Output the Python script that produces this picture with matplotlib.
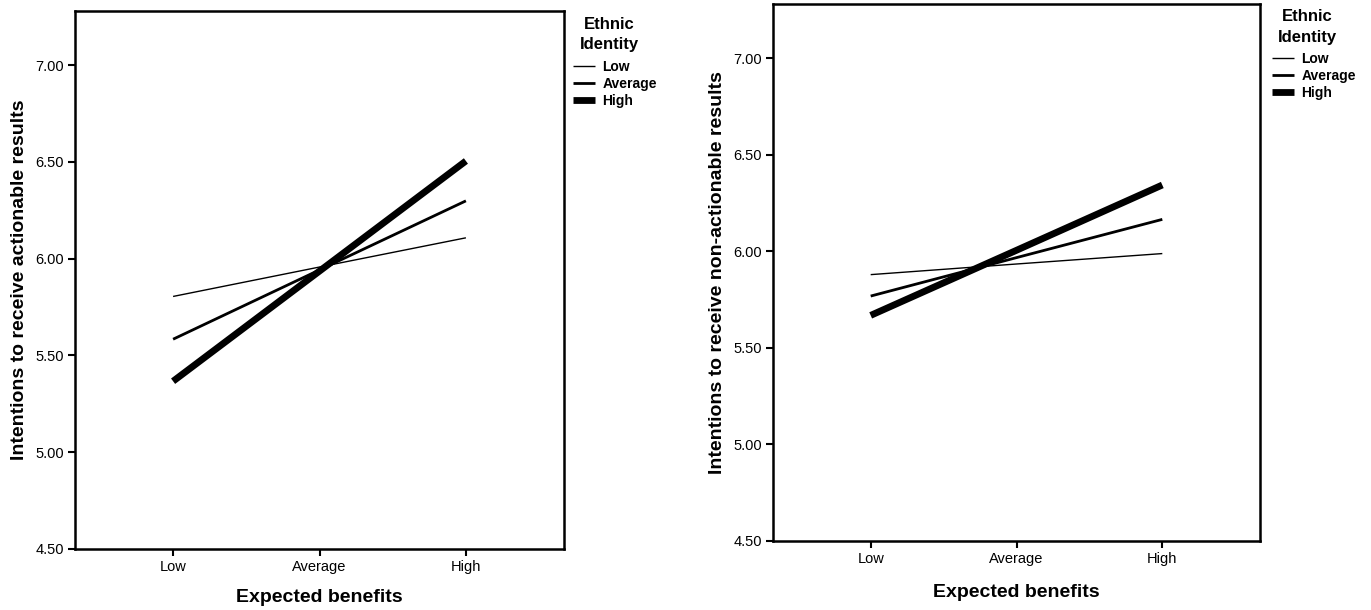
import numpy as np
import matplotlib.pyplot as plt
from matplotlib.ticker import FormatStrFormatter

plt.rcParams['font.family'] = ['Liberation Sans', 'DejaVu Sans']

# x categories (expected benefits)
benefit_levels = ['Low', 'Average', 'High']
identity_levels = ['Low', 'Average', 'High']

# left panel: intentions to receive actionable results
actionable_low = [5.805, 5.957, 6.108]
actionable_avg = [5.584, 5.942, 6.299]
actionable_high = [5.367, 5.936, 6.505]

# right panel: intentions to receive non-actionable results
nonactionable_low = [5.879, 5.934, 5.988]
nonactionable_avg = [5.768, 5.967, 6.165]
nonactionable_high = [5.668, 6.005, 6.343]

ylabels = ['Intentions to receive actionable results',
           'Intentions to receive non-actionable results']
widths = [1.0, 2.0, 4.9]

fig = plt.figure(figsize=(13.71, 6.10), dpi=100)
ax1 = fig.add_axes([75 / 1371, 1 - 549 / 610, 489 / 1371, 538 / 610])
ax2 = fig.add_axes([773 / 1371, 1 - 541 / 610, 487 / 1371, 537 / 610])

# (axes, series, ylabel, legend top-left px, title centre px, xlabel pad)
panels = [
    (ax1, [actionable_low, actionable_avg, actionable_high], ylabels[0],
     (573, 60), (609, 34.5), 11),
    (ax2, [nonactionable_low, nonactionable_avg, nonactionable_high], ylabels[1],
     (1272, 52), (1307, 27), 13),
]

x = np.arange(len(benefit_levels))
for ax, series, ylab, (lx, ly), (tx, ty), lpad in panels:
    for vals, lw, name in zip(series, widths, identity_levels):
        ax.plot(x, vals, color='black', lw=lw, label=name, solid_capstyle='butt')
    ax.set_xlim(-0.67, 2.67)
    ax.set_ylim(4.5, 7.28)
    ax.set_xticks(x)
    ax.set_xticklabels(benefit_levels)
    ax.set_yticks([4.5, 5.0, 5.5, 6.0, 6.5, 7.0])
    ax.yaxis.set_major_formatter(FormatStrFormatter('%.2f'))
    ax.tick_params(axis='both', direction='out', length=5, width=1.5,
                   labelsize=10.5, pad=3)
    for sp in ax.spines.values():
        sp.set_linewidth(1.8)
    ax.set_xlabel('Expected benefits', fontsize=14, fontweight='bold', labelpad=lpad)
    ax.set_ylabel(ylab, fontsize=14, fontweight='bold', labelpad=5)
    ax.legend(loc='upper left', bbox_to_anchor=(lx / 1371, 1 - ly / 610),
              bbox_transform=fig.transFigure, frameon=False,
              prop={'weight': 'bold', 'size': 10},
              borderpad=0, borderaxespad=0, handlelength=1.6,
              handletextpad=0.5, labelspacing=0.2)
    fig.text(tx / 1371, 1 - ty / 610, 'Ethnic\nIdentity', ha='center', va='center',
             multialignment='center', fontsize=12, fontweight='bold', linespacing=1.45)

fig.savefig('out.png', dpi=100)
